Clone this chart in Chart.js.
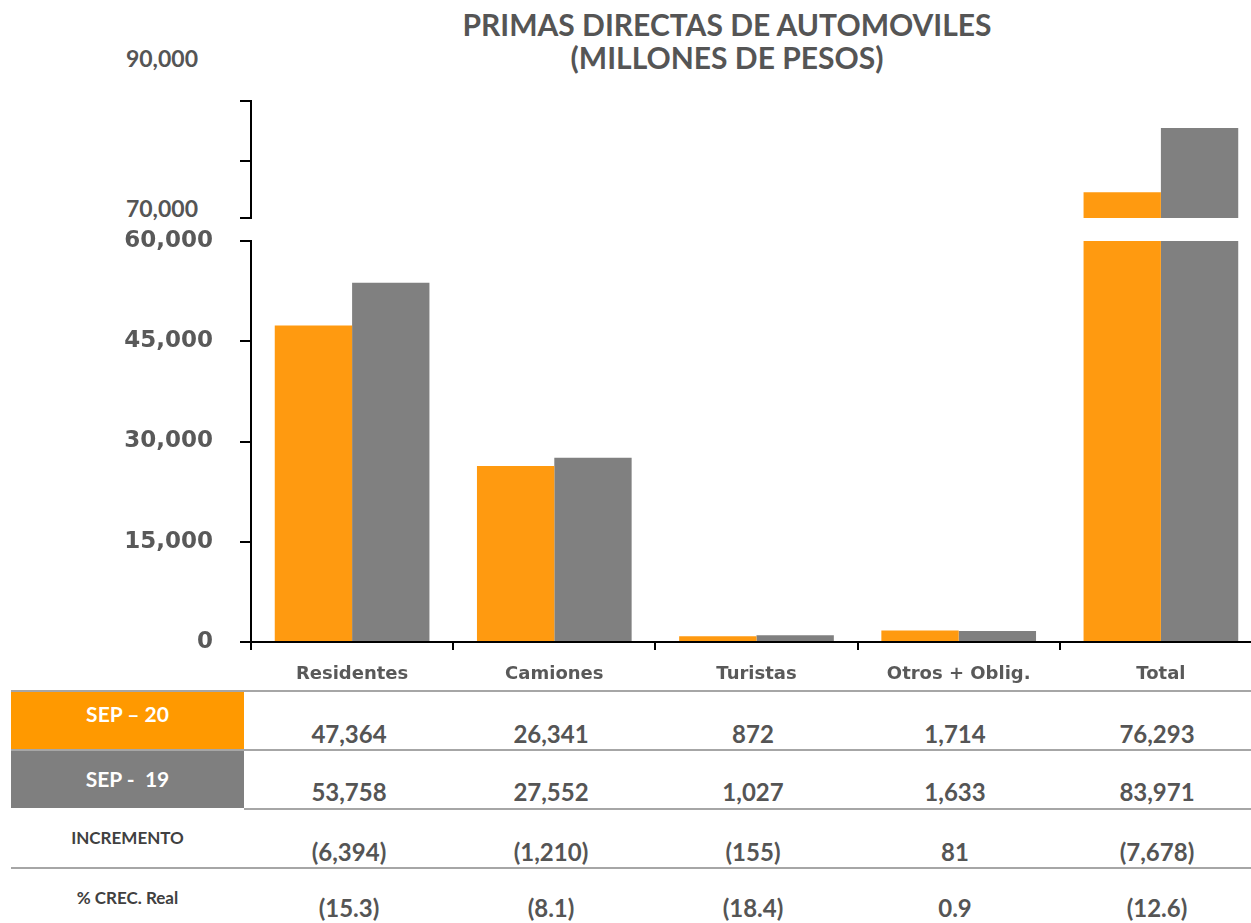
<!DOCTYPE html>
<html>
<head>
<meta charset="utf-8">
<script src="https://cdn.jsdelivr.net/npm/chart.js@4.4.0/dist/chart.umd.min.js"></script>
<style>
html, body { margin: 0; padding: 0; background: #fff; overflow: hidden; }
#page { position: relative; width: 1251px; height: 923px; overflow: hidden; font-family: Lato, "Open Sans", sans-serif; color: #555; }
#chart-top { position: absolute; left: 0; top: 80px; }
#chart-main { position: absolute; left: 0; top: 200px; }
.title { position: absolute; left: 427px; width: 600px; top: 8px; text-align: center; font-weight: bold; font-size: 30px; line-height: 33px; }
.break-label { position: absolute; left: 90px; width: 108px; text-align: right; font-weight: bold; font-size: 23px; line-height: 26px; }
.hline { position: absolute; height: 2px; background: #a6a6a6; }
.box { position: absolute; left: 11px; width: 233px; color: #fff; font-weight: bold; font-size: 21px; text-align: center; }
.row-label { position: absolute; left: 11px; width: 233px; font-weight: bold; font-size: 17px; text-align: center; color: #404040; }
.cell { position: absolute; width: 200px; text-align: center; font-weight: bold; font-size: 24px; line-height: 26px; }
</style>
</head>
<body>
<div id="page">
  <div class="title">PRIMAS DIRECTAS DE AUTOMOVILES<br>(MILLONES DE PESOS)</div>
  <div class="break-label" style="top:45px">90,000</div>
  <div class="break-label" style="top:195px">70,000</div>
  <canvas id="chart-top" width="1262" height="140"></canvas>
  <canvas id="chart-main" width="1262" height="500"></canvas>
  <div id="table"></div>
</div>
<script>
const categories = ['Residentes', 'Camiones', 'Turistas', 'Otros + Oblig.', 'Total'];
const sep20 = [47364, 26341, 872, 1714, 76293];
const sep19 = [53758, 27552, 1027, 1633, 83971];
const incremento = [-6394, -1210, -155, 81, -7678];
const crecReal = [-15.3, -8.1, -18.4, 0.9, -12.6];
const mainTicks = [0, 15000, 30000, 45000, 60000];
const rowNames = ['SEP \u2013 20', 'SEP -\u00a0 19', 'INCREMENTO', '% CREC. Real'];

const ORANGE = '#FF9A10';
const GRAY = '#808080';
const TEXT = '#595959';

// upper (broken) part: limits of the cut scale
const TOP_MIN = 73200;
const TOP_MAX = 87200;
const topTicks = [TOP_MIN, 80000, TOP_MAX];

const top20 = sep20.map(v => v > TOP_MIN ? v : null);
const top19 = sep19.map(v => v > TOP_MIN ? v : null);

const axisFont = { family: 'DejaVu Sans', weight: 'bold', size: 23 };
const catFont = { family: 'DejaVu Sans', weight: 'bold', size: 18 };

var chart_top = new Chart(document.getElementById('chart-top'), {
    type: 'bar',
    data: {
        labels: categories,
        datasets: [
            { label: rowNames[0], data: top20, backgroundColor: ORANGE, clip: 0 },
            { label: rowNames[1], data: top19, backgroundColor: GRAY, clip: 0 }
        ]
    },
    options: {
        responsive: false,
        animation: false,
        layout: { padding: { top: 21, bottom: 2, left: 0, right: 0 } },
        datasets: { bar: { categoryPercentage: 0.765, barPercentage: 1 } },
        plugins: { legend: { display: false }, tooltip: { enabled: false } },
        scales: {
            x: { display: false },
            y: {
                min: TOP_MIN,
                max: TOP_MAX,
                afterBuildTicks: s => { s.ticks = topTicks.map(v => ({ value: v })); },
                afterFit: s => { s.width = 251; },
                ticks: { display: false },
                grid: { drawOnChartArea: false, tickLength: 11, color: '#000', lineWidth: 2 },
                border: { display: true, color: '#000', width: 2 }
            }
        }
    }
});

var chart_main = new Chart(document.getElementById('chart-main'), {
    type: 'bar',
    data: {
        labels: categories,
        datasets: [
            { label: rowNames[0], data: sep20, backgroundColor: ORANGE, clip: 0 },
            { label: rowNames[1], data: sep19, backgroundColor: GRAY, clip: 0 }
        ]
    },
    options: {
        responsive: false,
        animation: false,
        layout: { padding: { top: 41, bottom: 0, left: 0, right: 0 } },
        datasets: { bar: { categoryPercentage: 0.765, barPercentage: 1 } },
        plugins: { legend: { display: false }, tooltip: { enabled: false } },
        scales: {
            x: {
                afterFit: s => { s.height = 58; },
                ticks: { color: TEXT, font: catFont, padding: 14 },
                grid: { drawOnChartArea: false, offset: true, tickLength: 8, color: '#000', lineWidth: 2 },
                border: { display: true, color: '#000', width: 2 }
            },
            y: {
                min: 0,
                max: 60000,
                afterBuildTicks: s => { s.ticks = mainTicks.map(v => ({ value: v })); },
                afterFit: s => { s.width = 251; },
                ticks: { color: TEXT, font: axisFont, padding: 27, callback: v => v.toLocaleString('en-US') },
                grid: { drawOnChartArea: false, tickLength: 11, color: '#000', lineWidth: 2 },
                border: { display: true, color: '#000', width: 2 }
            }
        }
    }
});

// table under the chart
function fmt(v, dec) {
    const s = Math.abs(v).toLocaleString('en-US', { minimumFractionDigits: dec, maximumFractionDigits: dec });
    return v < 0 ? '(' + s + ')' : s;
}
const table = document.getElementById('table');
let html = '';
[690, 749, 867].forEach(y => { html += '<div class="hline" style="left:11px;width:1240px;top:' + y + 'px"></div>'; });
html += '<div class="hline" style="left:244px;width:1007px;top:808px"></div>';
html += '<div class="box" style="top:692px;height:57px;line-height:44px;background:#FF9900">' + rowNames[0] + '</div>';
html += '<div class="box" style="top:751px;height:57px;line-height:56px;background:#7F7F7F">' + rowNames[1] + '</div>';
html += '<div class="row-label" style="top:827px">' + rowNames[2] + '</div>';
html += '<div class="row-label" style="top:887px">' + rowNames[3] + '</div>';
const rows = [[sep20, 0, 721], [sep19, 0, 779], [incremento, 0, 839], [crecReal, 1, 895]];
rows.forEach(r => {
    r[0].forEach((v, i) => {
        const cx = 349 + i * 202;
        html += '<div class="cell" style="left:' + (cx - 100) + 'px;top:' + r[2] + 'px">' + fmt(v, r[1]) + '</div>';
    });
});
table.innerHTML = html;
</script>
</body>
</html>
